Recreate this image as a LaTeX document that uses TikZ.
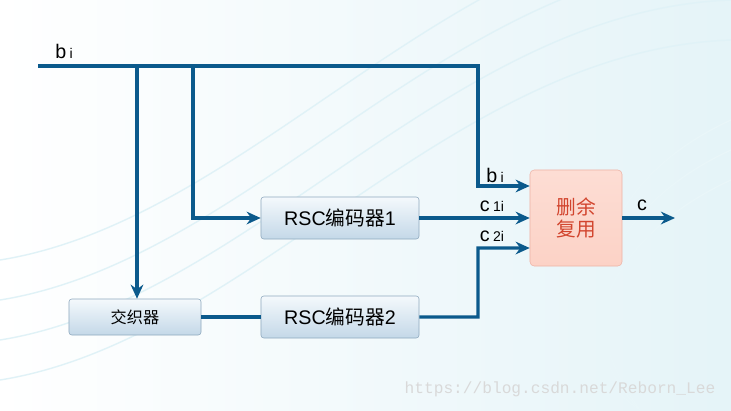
\documentclass[tikz,border=0pt]{standalone}
\usepackage{fontspec}
\setmainfont{Liberation Sans}
\newfontfamily\cjk{Noto Sans CJK SC}
\newfontfamily\wmfont{Liberation Mono}
\usepackage{xcolor}
\usepackage{tikz}
\usetikzlibrary{arrows.meta}
\definecolor{wire}{HTML}{0B5A8C}
\definecolor{encedge}{HTML}{8FA9BE}
\definecolor{enctop}{HTML}{F4F9FC}
\definecolor{encbot}{HTML}{C4D8E8}
\definecolor{muxedge}{HTML}{EDB3A6}
\definecolor{muxfill}{HTML}{FCD2C6}
\definecolor{muxtext}{HTML}{D2452E}
\definecolor{swirl}{HTML}{D3ECF3}
\tikzstyle{enc} = [rectangle, rounded corners=2pt, minimum width=3.95cm, minimum height=1.05cm, text centered, draw=encedge, top color=enctop, bottom color=encbot, font=\fontsize{14}{16}\selectfont]
\tikzstyle{ilv} = [rectangle, rounded corners=2pt, minimum width=3.3cm, minimum height=0.9cm, text centered, draw=encedge, top color=enctop, bottom color=encbot, font=\cjk\fontsize{11.5}{13}\selectfont]
\tikzstyle{mux} = [rectangle, rounded corners=3pt, minimum width=2.3cm, minimum height=2.4cm, text centered, align=center, draw=muxedge, top color=muxfill!75, bottom color=muxfill, text=muxtext, font=\cjk\fontsize{14}{16}\selectfont]
\tikzstyle{lbl} = [inner sep=0pt, font=\fontsize{14}{16}\selectfont]
\tikzstyle{wire} = [line width=2.4pt, draw=wire]
\tikzstyle{arrow} = [line width=2.4pt, draw=wire, -{Stealth[length=10pt, width=9pt]}]
\newcommand{\sub}[1]{\,{\fontsize{10}{12}\selectfont #1}}

\begin{document}
\begin{tikzpicture}[x=0.025cm, y=-0.025cm]
\useasboundingbox (0,0) rectangle (731,410);

% background
\fill [left color=white, right color=swirl!60] (0,0) rectangle (731,410);
\foreach \r in {260,300,340,380}
  \draw [swirl!70, line width=1pt] (0,\r) .. controls (250,\r-40) and (450,\r-330) .. (731,\r-340);
\foreach \r in {120,150,180}
  \draw [swirl!50, line width=1pt] (731,\r) .. controls (600,\r+60) and (560,\r+180) .. (640,410);

% nodes
\node (enc1) [enc] at (340,218) {RSC{\cjk 编码器}1};
\node (enc2) [enc] at (340,317) {RSC{\cjk 编码器}2};
\node (ilv) [ilv] at (135,317) {交织器};
\node (mux) [mux] at (576,218) {删余\\复用};

\coordinate (in) at (38,66);
\coordinate (j1) at (137,66);
\coordinate (j2) at (193,66);
\coordinate (j3) at (478,66);
\coordinate (out) at (675,218);

% labels
\node (bin) [lbl] at (64,51) {b\sub{i}};
\node (bsys) [lbl] at (495,175) {b\sub{i}};
\node (cone) [lbl] at (492,206) {c\sub{1i}};
\node (ctwo) [lbl] at (492,236) {c\sub{2i}};
\node (cout) [lbl] at (642,205) {c};

% connections
\draw [arrow] (in) -- (j3) |- ([yshift=0.8cm]mux.west);
\draw [arrow] (j1) -- (ilv.north -| j1);
\draw [arrow] (j2) |- (enc1.west);
\draw [arrow] (enc1.east) -- (mux.west);
\draw [arrow] (enc2.east) -| (478,248) -- ([yshift=-0.75cm]mux.west);
\draw [wire] (ilv.east) -- (enc2.west);
\draw [arrow] (mux.east) -- (out);

% watermark
\node (wm) [font=\wmfont\fontsize{11.5}{13}\selectfont, text=black!15] at (560,389) {https://blog.csdn.net/Reborn\_Lee};
\end{tikzpicture}
\end{document}
